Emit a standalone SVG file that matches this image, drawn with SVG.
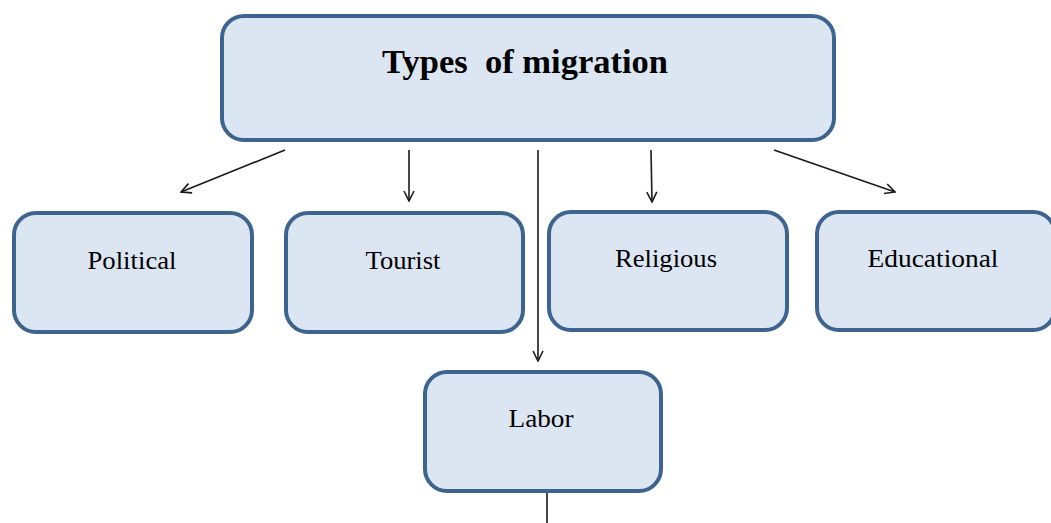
<svg xmlns="http://www.w3.org/2000/svg" width="1051" height="523" viewBox="0 0 1051 523">
<style>
.box{fill:#dce6f2;stroke:#3d6390;stroke-width:4}
.lbl{font-family:"Liberation Serif",serif;font-size:25px;fill:#000;text-anchor:middle}
.title{font-family:"Liberation Serif",serif;font-size:34px;font-weight:bold;fill:#000;text-anchor:middle;white-space:pre}
.con{stroke:#1a1a1a;stroke-width:1.6;fill:none}
</style>
<defs>
<marker id="ah" viewBox="0 0 12 12" refX="11" refY="6" markerWidth="12" markerHeight="12" markerUnits="userSpaceOnUse" orient="auto">
<path d="M1,1 L11,6 L1,11" fill="none" stroke="#1a1a1a" stroke-width="1.6"/>
</marker>
</defs>
<rect width="1051" height="523" fill="#fff"/>
<g id="connectors">
<line class="con" x1="285" y1="150" x2="181" y2="192" marker-end="url(#ah)"/>
<line class="con" x1="409" y1="150" x2="409" y2="201" marker-end="url(#ah)"/>
<line class="con" x1="538" y1="150" x2="538" y2="361" marker-end="url(#ah)"/>
<line class="con" x1="651" y1="150" x2="652" y2="202" marker-end="url(#ah)"/>
<line class="con" x1="774" y1="150" x2="895" y2="192" marker-end="url(#ah)"/>
<line class="con" x1="547" y1="492" x2="547" y2="523"/>
</g>
<g id="types">
<rect class="box" x="222" y="16" width="612" height="124" rx="22"/>
<text class="title" x="525" y="73" textLength="286" lengthAdjust="spacingAndGlyphs" xml:space="preserve">Types  of migration</text>
</g>
<g id="political">
<rect class="box" x="14" y="213" width="238" height="119" rx="22"/>
<text class="lbl" x="132" y="269" textLength="89" lengthAdjust="spacingAndGlyphs">Political</text>
</g>
<g id="tourist">
<rect class="box" x="286" y="213" width="237" height="119" rx="22"/>
<text class="lbl" x="403" y="269" textLength="75" lengthAdjust="spacingAndGlyphs">Tourist</text>
</g>
<g id="religious">
<rect class="box" x="549" y="212" width="238" height="118" rx="22"/>
<text class="lbl" x="666" y="267" textLength="102" lengthAdjust="spacingAndGlyphs">Religious</text>
</g>
<g id="educational">
<rect class="box" x="817" y="212" width="238" height="118" rx="22"/>
<text class="lbl" x="933" y="267" textLength="131" lengthAdjust="spacingAndGlyphs">Educational</text>
</g>
<g id="labor">
<rect class="box" x="425" y="372" width="236" height="119" rx="22"/>
<text class="lbl" x="541" y="427" textLength="65" lengthAdjust="spacingAndGlyphs">Labor</text>
</g>
</svg>
